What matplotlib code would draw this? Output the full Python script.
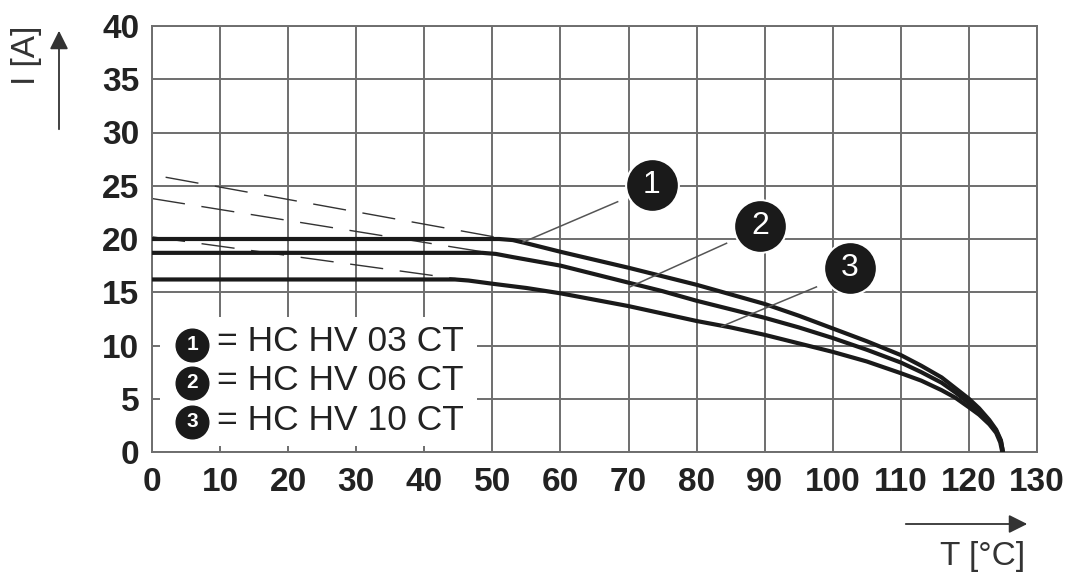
import matplotlib
matplotlib.use('Agg')
from matplotlib import pyplot as plt
from matplotlib.patches import Rectangle

plt.rcParams['font.family'] = ['Liberation Sans', 'DejaVu Sans']

# derating curves
t_03 = [0, 51, 53, 55, 60, 65, 70, 75, 80, 85, 90, 95, 100, 105, 110, 113, 116, 118, 120,
        121.5, 123, 124, 124.7, 125]
i_03 = [20, 20, 19.9, 19.6, 18.8, 18.05, 17.3, 16.5, 15.7, 14.8, 13.9, 12.8, 11.6, 10.4, 9.1,
        8.1, 7.0, 6.0, 5.0, 4.1, 3.0, 2.1, 1.1, 0]
t_06 = [0, 48.5, 50.5, 53, 60, 65, 70, 75, 80, 85, 90, 95, 100, 105, 110, 113, 116, 118, 120,
        121.5, 123, 124, 124.7, 125]
i_06 = [18.7, 18.7, 18.6, 18.3, 17.5, 16.7, 15.9, 15.1, 14.2, 13.4, 12.6, 11.7, 10.7, 9.6, 8.4,
        7.5, 6.5, 5.6, 4.6, 3.8, 2.8, 2.0, 1.0, 0]
t_10 = [0, 44.5, 46.5, 50, 55, 60, 65, 70, 75, 80, 85, 90, 95, 100, 105, 110, 113, 116, 118,
        120, 121.5, 123, 124, 124.6, 124.9]
i_10 = [16.2, 16.2, 16.1, 15.8, 15.4, 14.9, 14.3, 13.7, 13.0, 12.3, 11.7, 11.0, 10.2, 9.4, 8.5,
        7.4, 6.7, 5.8, 5.1, 4.2, 3.5, 2.6, 1.8, 0.9, 0]

# dashed extensions (uncapped curves)
dash_t = [[2, 52], [0, 49.5], [0, 45.5]]
dash_i = [[25.8, 20], [23.8, 18.7], [20.2, 16.2]]

names = ['HC HV 03 CT', 'HC HV 06 CT', 'HC HV 10 CT']
x_ticks = list(range(0, 131, 10))
y_ticks = list(range(0, 41, 5))

grey = '#6e6e6e'
ink = '#1a1a1a'

fig = plt.figure(figsize=(10.8, 5.8), dpi=100)
ax = fig.add_axes([152 / 1080, 1 - 452 / 580, 885 / 1080, 426 / 580])
ax.set_xlim(0, 130)
ax.set_ylim(0, 40)
ax.set_xticks(x_ticks)
ax.set_yticks(y_ticks)
ax.set_axisbelow(True)
ax.grid(True, color=grey, linewidth=1.4)
for s in ax.spines.values():
    s.set_color(grey)
    s.set_linewidth(1.4)
ax.tick_params(length=0, pad=9, labelsize=24, colors='#222222')
ax.tick_params(axis='x', pad=11)
for lab in ax.get_xticklabels() + ax.get_yticklabels():
    lab.set_fontweight('bold')

for t, i in zip(dash_t, dash_i):
    ax.plot(t, i, color='#333333', linewidth=1.0, dashes=(24, 12), zorder=2)

for t, i in [(t_03, i_03), (t_06, i_06), (t_10, i_10)]:
    ax.plot(t, i, color=ink, linewidth=3.0, solid_joinstyle='round', solid_capstyle='butt', zorder=3)

# white box behind the key
ax.add_patch(Rectangle((1.2, 0.55), 46.5, 12.1, facecolor='white', edgecolor='none', zorder=1.5))

# key
key_y = [10.05, 6.48, 2.82]
key_text_y = [9.48, 5.82, 2.07]
for n, (cy, ty, name) in enumerate(zip(key_y, key_text_y, names), start=1):
    ax.plot(5.9, cy, 'o', markersize=23.5, color=ink, zorder=4)
    ax.text(5.9, cy, str(n), color='white', fontsize=15, fontweight='bold',
            ha='center', va='center', zorder=5)
    ax.text(9.6, ty, '= ' + name, fontsize=25.5, color='#222222', ha='left', va='baseline', zorder=5)

# callouts
callout_xy = [(73.4, 25.1), (89.3, 21.2), (102.5, 17.25)]
leader_from = [(68.4, 23.5), (84.4, 19.6), (97.6, 15.5)]
leader_to = [(54.5, 19.7), (70.2, 15.5), (83.7, 11.8)]
for n, (c, a, b) in enumerate(zip(callout_xy, leader_from, leader_to), start=1):
    ax.plot([a[0], b[0]], [a[1], b[1]], color='#555555', linewidth=1.1, zorder=4)
    ax.plot(c[0], c[1], 'o', markersize=38, color=ink, markeredgecolor='white',
            markeredgewidth=1.5, zorder=6)
    ax.text(c[0], c[1], str(n), color='white', fontsize=23, ha='center', va='center', zorder=7)

# axis labels with arrows
ax.annotate('', xy=(59, 552), xytext=(59, 448), xycoords='figure pixels', textcoords='figure pixels',
            arrowprops=dict(arrowstyle='-|>', color='#333333', lw=1.3, mutation_scale=28))
fig.text(27 / 1080, 525 / 580, 'I [A]', rotation=90, fontsize=24, color='#333333',
         ha='center', va='center')
ax.annotate('', xy=(1030, 56), xytext=(903, 56), xycoords='figure pixels', textcoords='figure pixels',
            arrowprops=dict(arrowstyle='-|>', color='#333333', lw=1.3, mutation_scale=28))
fig.text(983 / 1080, 24 / 580, 'T [°C]', fontsize=24, color='#333333', ha='center', va='center')

fig.savefig('out.png', dpi=100)
